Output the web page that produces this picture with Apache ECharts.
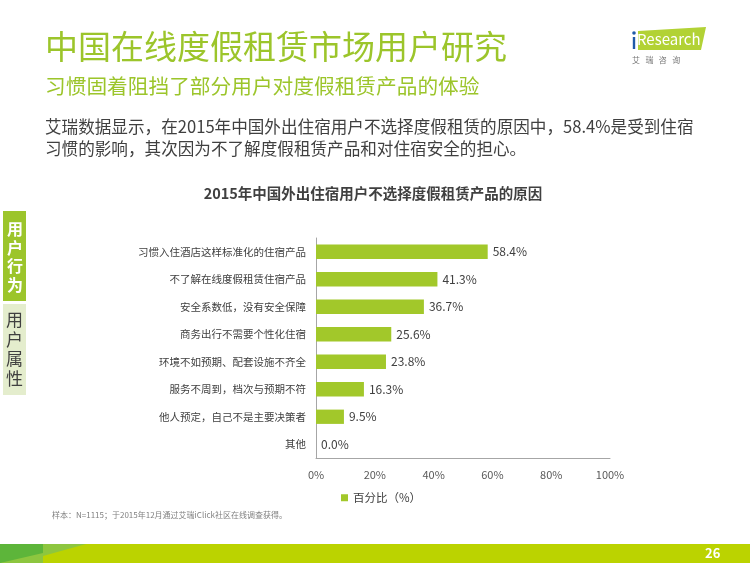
<!DOCTYPE html>
<html><head><meta charset="utf-8">
<script src="https://cdn.jsdelivr.net/npm/echarts@6/dist/echarts.min.js"></script>
<style>html,body{margin:0;padding:0;background:#fff}#c{width:750px;height:563px}</style>
</head><body><div id="c"></div>
<script>
const categories = ['习惯入住酒店这样标准化的住宿产品','不了解在线度假租赁住宿产品','安全系数低，没有安全保障','商务出行不需要个性化住宿','环境不如预期、配套设施不齐全','服务不周到，档次与预期不符','他人预定，自己不是主要决策者','其他'];
const values = [58.4, 41.3, 36.7, 25.6, 23.8, 16.3, 9.5, 0.0];
const seriesName = '百分比（%）';
const xTicks = [0, 20, 40, 60, 80, 100];

const F = '"Noto Sans CJK SC","Noto Sans",sans-serif';
const green = '#9cc52b';
const chart = echarts.init(document.getElementById('c'));
chart.setOption({
  animation: false,
  textStyle: {fontFamily: F},
  title: {
    text: '2015年中国外出住宿用户不选择度假租赁产品的原因',
    left: 368, top: 181, textAlign: 'center',
    textStyle: {fontSize: 14.5, fontWeight: 'bold', color: '#404040', fontFamily: F}
  },
  grid: {left: 316, right: 140, top: 238, bottom: 105, containLabel: false},
  legend: {
    data: [seriesName], left: 336, top: 487, icon: 'rect', itemWidth: 7, itemHeight: 7, itemGap: 4,
    textStyle: {fontSize: 11.5, color: '#404040', fontFamily: F}
  },
  xAxis: {
    type: 'value', min: 0, max: 100, interval: 20,
    axisLine: {show: true, lineStyle: {color: '#a6a6a6'}},
    axisTick: {show: false}, splitLine: {show: false},
    axisLabel: {formatter: v => xTicks.includes(v) ? v + '%' : '', fontSize: 11, color: '#595959', margin: 11}
  },
  yAxis: {
    type: 'category', data: categories, inverse: true,
    axisLine: {show: true, lineStyle: {color: '#a6a6a6'}},
    axisTick: {show: false},
    axisLabel: {fontSize: 10.5, color: '#404040', margin: 10}
  },
  series: [{
    name: seriesName, type: 'bar', data: values, barCategoryGap: '48%',
    itemStyle: {color: '#a2c82a'},
    label: {show: true, position: 'right', distance: 5, formatter: p => p.value.toFixed(1) + '%', fontSize: 12, color: '#404040'}
  }],
  graphic: [
    {type: 'text', left: 45, top: 30, style: {text: '中国在线度假租赁市场用户研究', fill: green, font: '33px ' + F}},
    {type: 'text', left: 45, top: 76, style: {text: '习惯固着阻挡了部分用户对度假租赁产品的体验', fill: green, font: '20.7px ' + F}},
    {type: 'text', left: 45, top: 118, style: {text: '艾瑞数据显示，在2015年中国外出住宿用户不选择度假租赁的原因中，58.4%是受到住宿', fill: '#404040', font: '16.6px ' + F}},
    {type: 'text', left: 45, top: 140, style: {text: '习惯的影响，其次因为不了解度假租赁产品和对住宿安全的担心。', fill: '#404040', font: '16.6px ' + F}},
    // logo
    {type: 'polygon', shape: {points: [[638, 31], [706, 27], [701, 50], [638, 50]]}, style: {fill: '#b2d235'}},
    {type: 'circle', shape: {cx: 634, cy: 33, r: 1.8}, style: {fill: '#1e5aa8'}},
    {type: 'rect', shape: {x: 632.8, y: 37, width: 2.4, height: 12}, style: {fill: '#1e5aa8'}},
    {type: 'text', left: 637, top: 32, style: {text: 'Research', fill: '#fff', font: '15px ' + F}},
    {type: 'text', left: 632, top: 56, style: {text: '艾   瑞   咨   询', fill: '#777', font: '8px ' + F}},
    // sidebar
    {type: 'rect', shape: {x: 3, y: 211, width: 23, height: 90}, style: {fill: green}},
    {type: 'text', left: 7, top: 220, style: {text: '用\n户\n行\n为', fill: '#fff', font: 'bold 16px ' + F, lineHeight: 18.5}},
    {type: 'rect', shape: {x: 3, y: 304, width: 23, height: 91}, style: {fill: '#e4edcd'}},
    {type: 'text', left: 6, top: 310, style: {text: '用\n户\n属\n性', fill: '#404040', font: '17px ' + F, lineHeight: 19.5}},
    // footnote
    {type: 'text', left: 52, top: 511, style: {text: '样本：N=1115；于2015年12月通过艾瑞iClick社区在线调查获得。', fill: '#808080', font: '8px ' + F}},
    // bottom band
    {type: 'rect', shape: {x: 0, y: 544, width: 750, height: 19}, style: {fill: '#bbd300'}},
    {type: 'polygon', shape: {points: [[0, 544], [86, 544], [43, 556], [43, 563], [0, 563]]}, style: {fill: '#8dc63f'}},
    {type: 'polygon', shape: {points: [[0, 544], [43, 544], [43, 553], [0, 563]]}, style: {fill: '#5db53a'}},
    {type: 'text', left: 705, top: 547, style: {text: '26', fill: '#fff', font: 'bold 13px ' + F}}
  ]
});
</script></body></html>
